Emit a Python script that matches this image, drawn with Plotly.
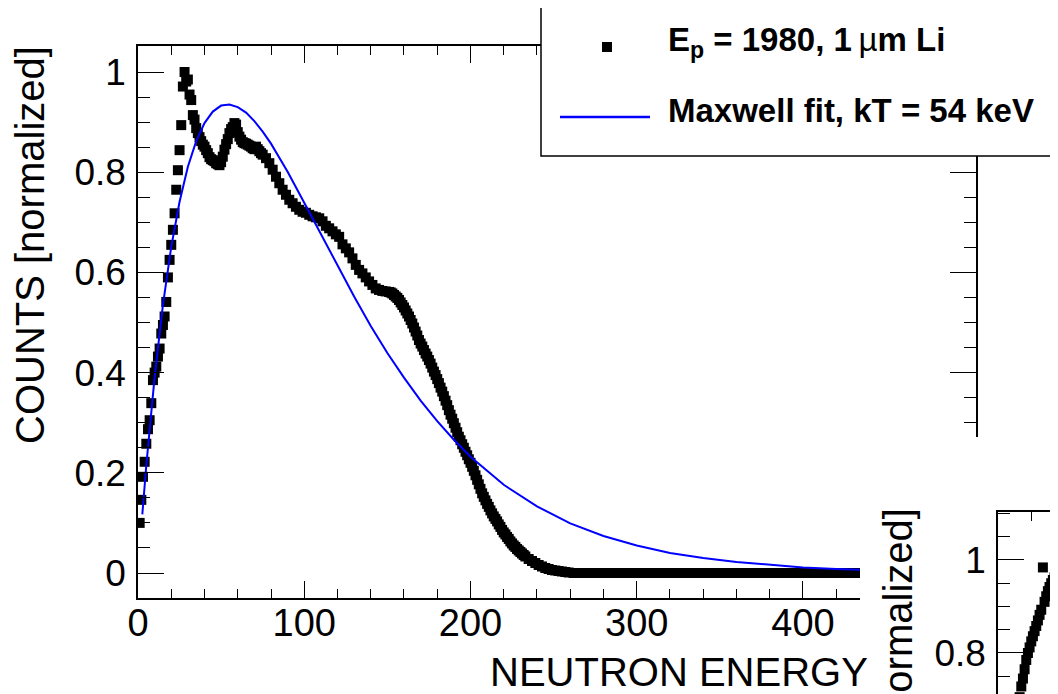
import plotly.graph_objects as go

# the page body keeps its default 8 px margin, so the figure is 8 px smaller
# than the window and every position below is given in window pixels
W, H = 1050, 686
OFF = 8

# ---- main spectrum (E_p = 1980 keV, 1 um Li) ----
energy = [1, 2, 3, 4, 5, 6, 7, 8, 9, 10, 11, 12, 13, 14, 15, 16, 17, 18, 19, 20,
          21, 22, 23, 24, 25, 26, 27, 28, 29, 30, 31, 32, 33, 34, 35, 36, 37, 38, 39, 40,
          41, 42, 43, 44, 45, 46, 47, 48, 49, 50, 51, 52, 53, 54, 55, 56, 57, 58, 59, 60,
          61, 62, 63, 64, 65, 66, 67, 68, 69, 70, 71, 72, 73, 74, 75,
          77, 79, 81, 83, 85, 87, 89, 91, 93, 95, 97, 99, 101, 103, 105, 107, 109, 111, 113,
          115, 117, 119, 121, 123, 125, 127, 129, 131, 133, 135, 137, 139, 141, 143, 145,
          147, 149, 151, 152, 153, 154, 155, 156, 157, 158, 159, 160, 161, 162, 163, 164,
          165, 166, 167, 168, 169, 170, 171, 172, 173, 174, 175, 176, 177, 178, 179, 180,
          181, 182, 183, 184, 185, 186, 187, 188, 189, 190, 191, 192, 193, 194, 195, 196,
          197, 198, 199, 200, 201, 202, 203, 204, 205, 206, 207, 208, 209, 210, 211, 212,
          213, 214, 215, 216, 217, 218, 219, 220, 221, 222, 223, 224, 225, 226, 227, 228,
          229, 230, 231, 232, 233, 235, 237, 239, 241, 243, 245, 247, 249, 251, 253, 255,
          257, 259,
          262, 266, 270, 274, 278, 282, 286, 290, 294, 298, 302, 306, 310, 314, 318, 322,
          326, 330, 334, 338, 342, 346, 350, 354, 358, 362, 366, 370, 374, 378, 382, 386,
          390, 394, 398, 402, 406, 410, 414, 418, 422, 426, 430, 434]
counts = [0.100, 0.146, 0.192, 0.222, 0.258, 0.287, 0.305, 0.339, 0.385, 0.400,
          0.412, 0.432, 0.448, 0.478, 0.495, 0.512, 0.541, 0.590, 0.625, 0.655,
          0.685, 0.718, 0.765, 0.804, 0.844, 0.894, 0.971, 1.000, 0.981, 0.985,
          0.955, 0.944, 0.914, 0.905, 0.888, 0.878, 0.870, 0.862, 0.855, 0.851,
          0.844, 0.838, 0.830, 0.826, 0.824, 0.822, 0.818, 0.816, 0.814, 0.820,
          0.831, 0.845, 0.856, 0.866, 0.878, 0.886, 0.890, 0.898, 0.895, 0.880,
          0.871, 0.865, 0.860, 0.858, 0.857, 0.855, 0.853, 0.851, 0.848, 0.846,
          0.851, 0.846, 0.842, 0.838, 0.835,
          0.828, 0.818, 0.805, 0.791, 0.778, 0.765, 0.755, 0.745, 0.738, 0.731,
          0.725, 0.721, 0.719, 0.715, 0.712, 0.710, 0.708, 0.702, 0.693, 0.688,
          0.682, 0.676, 0.671, 0.656, 0.648, 0.640, 0.628, 0.615, 0.605, 0.598,
          0.590, 0.582, 0.575, 0.568, 0.565, 0.563, 0.562, 0.561, 0.560, 0.558,
          0.555, 0.552, 0.549, 0.545, 0.540, 0.535, 0.530, 0.524, 0.518, 0.512,
          0.505, 0.498, 0.490, 0.482, 0.474, 0.465, 0.458, 0.452, 0.445, 0.438,
          0.432, 0.425, 0.418, 0.410, 0.402, 0.395, 0.387, 0.379, 0.370, 0.362,
          0.353, 0.344, 0.335, 0.325, 0.316, 0.308, 0.299, 0.290, 0.281, 0.272,
          0.265, 0.257, 0.250, 0.242, 0.235, 0.227, 0.220, 0.212, 0.204, 0.195,
          0.186, 0.177, 0.168, 0.159, 0.152, 0.145, 0.138, 0.132, 0.125, 0.119,
          0.113, 0.108, 0.103, 0.097, 0.092, 0.086, 0.081, 0.077, 0.072, 0.068,
          0.063, 0.059, 0.055, 0.052, 0.048, 0.045, 0.042, 0.039, 0.036, 0.033,
          0.028, 0.024, 0.020, 0.016, 0.013, 0.010, 0.008, 0.006, 0.005, 0.004,
          0.003, 0.002, 0.001,
          0.0, 0.0, 0.0, 0.0, 0.0, 0.0, 0.0, 0.0, 0.0, 0.0, 0.0, 0.0, 0.0, 0.0, 0.0,
          0.0, 0.0, 0.0, 0.0, 0.0, 0.0, 0.0, 0.0, 0.0, 0.0, 0.0, 0.0, 0.0, 0.0, 0.0,
          0.0, 0.0, 0.0, 0.0, 0.0, 0.0, 0.0, 0.0, 0.0, 0.0, 0.0, 0.0, 0.0, 0.0]

# Maxwell fit, kT = 54 keV
fit_energy = [2.6, 5, 10, 15, 20, 25, 30, 35, 40, 45, 50, 55, 60, 65, 70, 75, 80, 90,
              100, 110, 120, 130, 140, 150, 160, 170, 180, 190, 200, 220, 240, 260,
              280, 300, 320, 340, 360, 380, 400, 420, 440]
fit_counts = [0.117, 0.215, 0.391, 0.535, 0.651, 0.741, 0.811, 0.862, 0.898, 0.921,
              0.933, 0.935, 0.930, 0.919, 0.902, 0.881, 0.857, 0.801, 0.739, 0.676,
              0.613, 0.552, 0.493, 0.439, 0.390, 0.344, 0.303, 0.266, 0.232, 0.176,
              0.133, 0.099, 0.074, 0.055, 0.040, 0.030, 0.022, 0.016, 0.011, 0.008,
              0.006]

# ---- second panel peeking in at the bottom right ----
inset_energy = [13, 14, 15, 16, 17, 18, 19, 20, 21, 22, 23, 24, 25, 26, 27, 28, 29,
                30, 31, 32, 33, 34, 35, 36]
inset_counts = [0.705, 0.728, 0.745, 0.765, 0.785, 0.800, 0.812, 0.825, 0.836, 0.847,
                0.858, 0.870, 0.882, 0.893, 0.984, 0.910, 0.922, 0.933, 0.942, 0.950,
                0.957, 0.963, 0.968, 0.972]
inset_fit_energy = [33, 34, 35, 36, 37]
inset_fit_counts = [0.690, 0.715, 0.740, 0.765, 0.790]

FONT = "Liberation Sans"


def px_x(p):
    return (p - OFF) / W


def px_y(p):
    return 1 - (p - OFF) / H


fig = go.Figure()

fig.add_trace(go.Scatter(x=energy, y=counts, mode='markers',
                         marker=dict(symbol='square', size=10, color='black'),
                         xaxis='x', yaxis='y'))
fig.add_trace(go.Scatter(x=fit_energy, y=fit_counts, mode='lines',
                         line=dict(color='#0000ff', width=2),
                         xaxis='x', yaxis='y'))

fig.add_trace(go.Scatter(x=inset_energy, y=inset_counts, mode='markers',
                         marker=dict(symbol='square', size=10, color='black'),
                         xaxis='x2', yaxis='y2'))
fig.add_trace(go.Scatter(x=inset_fit_energy, y=inset_fit_counts, mode='lines',
                         line=dict(color='#0000ff', width=2),
                         xaxis='x2', yaxis='y2'))

# right edge of the main frame (only a piece of it is visible)
fig.add_trace(go.Scatter(x=[], y=[], xaxis='x3', yaxis='y3'))

minor_x = dict(dtick=20, ticklen=9, ticks='inside', tickcolor='black', tickwidth=1.3)
minor_y = dict(dtick=0.05, ticklen=12, ticks='inside', tickcolor='black', tickwidth=1.3)
axis_common = dict(showline=True, linecolor='black', linewidth=1.5, showgrid=False,
                   zeroline=False, ticks='inside', tickcolor='black', tickwidth=1.3)
ytick_font = dict(family=FONT, size=37, color='black')

fig.update_layout(
    width=W, height=H, autosize=False,
    margin=dict(l=0, r=0, t=0, b=0, autoexpand=False),
    paper_bgcolor='white', plot_bgcolor='white',
    showlegend=False,
    xaxis=dict(domain=[px_x(138), px_x(860)], range=[0, 434.3], anchor='y',
               dtick=100, tick0=0, ticklen=17, mirror='allticks', minor=minor_x,
               tickfont=dict(family=FONT, size=38, color='black'),
               ticklabelstandoff=-9, **axis_common),
    yaxis=dict(domain=[px_y(598), px_y(46)], range=[-0.0499, 1.0519], anchor='x',
               dtick=0.2, tick0=0, ticklen=26, mirror=False, minor=minor_y,
               tickfont=ytick_font, ticklabelstandoff=3, **axis_common),
    xaxis2=dict(domain=[px_x(998), 1.0], range=[0, 36.09], anchor='y2', side='top',
                dtick=100, tick0=0, ticklen=17, mirror=False, showticklabels=False,
                minor=minor_x, **axis_common),
    yaxis2=dict(domain=[0.0, px_y(512)], range=[0.7118, 1.1032], anchor='x2',
                dtick=0.2, tick0=0, ticklen=26, mirror=False, minor=minor_y,
                tickfont=ytick_font, ticklabelstandoff=3, **axis_common),
    xaxis3=dict(domain=[px_x(900), px_x(970)], anchor='y3', visible=False, range=[0, 1]),
    yaxis3=dict(domain=[px_y(437), px_y(140)], range=[0.2715, 0.8643], anchor='free',
                position=px_x(977), side='right', dtick=0.2, tick0=0, ticklen=26,
                showticklabels=False, minor=minor_y, **axis_common),
)

# legend box drawn by hand so the long line sample matches
fig.add_shape(type='rect', xref='paper', yref='paper', layer='above',
              x0=px_x(541), x1=1.02, y0=px_y(156), y1=px_y(7),
              line=dict(color='black', width=1.5), fillcolor='white')
fig.add_shape(type='rect', xref='paper', yref='paper', layer='above',
              x0=px_x(602), x1=px_x(612), y0=px_y(52), y1=px_y(42),
              line=dict(width=0), fillcolor='black')
fig.add_shape(type='line', xref='paper', yref='paper', layer='above',
              x0=px_x(560), x1=px_x(650), y0=px_y(117), y1=px_y(117),
              line=dict(color='#0000ff', width=2.5))

fig.add_annotation(text='<b>E<sub>p</sub> = 1980, 1\u2009</b>\u00b5<b>m Li</b>',
                   xref='paper', yref='paper',
                   x=px_x(666), y=px_y(42), xanchor='left', yanchor='middle', showarrow=False,
                   font=dict(family=FONT, size=33, color='black'))
fig.add_annotation(text='<b>Maxwell fit, kT = 54 keV</b>', xref='paper', yref='paper',
                   x=px_x(666), y=px_y(111), xanchor='left', yanchor='middle', showarrow=False,
                   font=dict(family=FONT, size=33, color='black'))

# axis titles
fig.add_annotation(text='COUNTS [normalized]', textangle=-90, xref='paper', yref='paper',
                   x=px_x(30), y=px_y(245), xanchor='center', yanchor='middle',
                   showarrow=False, font=dict(family=FONT, size=40, color='black'))
fig.add_annotation(text='NEUTRON ENERGY', xref='paper', yref='paper',
                   x=px_x(488), y=px_y(672), xanchor='left', yanchor='middle',
                   showarrow=False, font=dict(family=FONT, size=40, color='black'))
fig.add_annotation(text='COUNTS [normalized]', textangle=-90, xref='paper', yref='paper',
                   x=px_x(898), y=px_y(506), xanchor='center', yanchor='top',
                   showarrow=False, font=dict(family=FONT, size=40, color='black'))

fig.write_html("out.html")
